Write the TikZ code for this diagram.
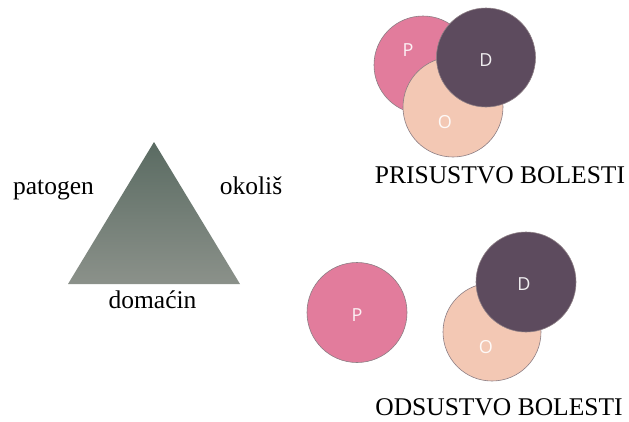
\documentclass[tikz,border=0pt]{standalone}
\usepackage{fontspec}
\setmainfont{Liberation Serif}
\newfontfamily\lblfont{Open Sans}
\definecolor{cP}{HTML}{E27C9C}
\definecolor{cD}{HTML}{5D4B5E}
\definecolor{cO}{HTML}{F3C8B4}
\definecolor{cEdge}{HTML}{8C7E84}
\definecolor{triTop}{HTML}{5A6B62}
\definecolor{triBot}{HTML}{8B918A}
\begin{document}
\begin{tikzpicture}[x=1pt,y=-1pt,
  disk/.style={circle,draw=cEdge,line width=0.6pt,minimum size=100pt,inner sep=0pt},
  lbl/.style={text=white,text opacity=0.9,font=\lblfont\fontsize{18}{18}\selectfont,inner sep=0pt},
  word/.style={font=\fontsize{25.5}{26}\selectfont,inner sep=0pt,anchor=base}]
\useasboundingbox (0,0) rectangle (629,421);
% triangle
\shade[top color=triTop,bottom color=triBot] (154,142) -- (240,284) -- (68,284) -- cycle;
\coordinate (apex) at (154,142);
\node[word] (pat) at (53.5,194) {patogen};
\node[word] (oko) at (251,194) {okoliš};
\node[word] (dom) at (152.5,308) {domaćin};
% top group
\node[disk,fill=cP,minimum size=98pt] (P1) at (423,65) {};
\node[disk,fill=cO] (O1) at (453,107) {};
\node[disk,fill=cD,minimum size=99pt] (D1) at (486,57.5) {};
\node[lbl] (P1l) at (408,50) {P};
\node[lbl] (D1l) at (486,60) {D};
\node[lbl] (O1l) at (445,122) {O};
\node[word] (pris) at (500,183) {PRISUSTVO BOLESTI};
% bottom group
\node[disk,fill=cP] (P2) at (357,312.5) {};
\node[disk,fill=cO,minimum size=98pt] (O2) at (492,332) {};
\node[disk,fill=cD] (D2) at (526,282) {};
\node[lbl] (P2l) at (357,315) {P};
\node[lbl] (D2l) at (524,284) {D};
\node[lbl] (O2l) at (486,347) {O};
\node[word] (ods) at (499,415) {ODSUSTVO BOLESTI};
\end{tikzpicture}
\end{document}
